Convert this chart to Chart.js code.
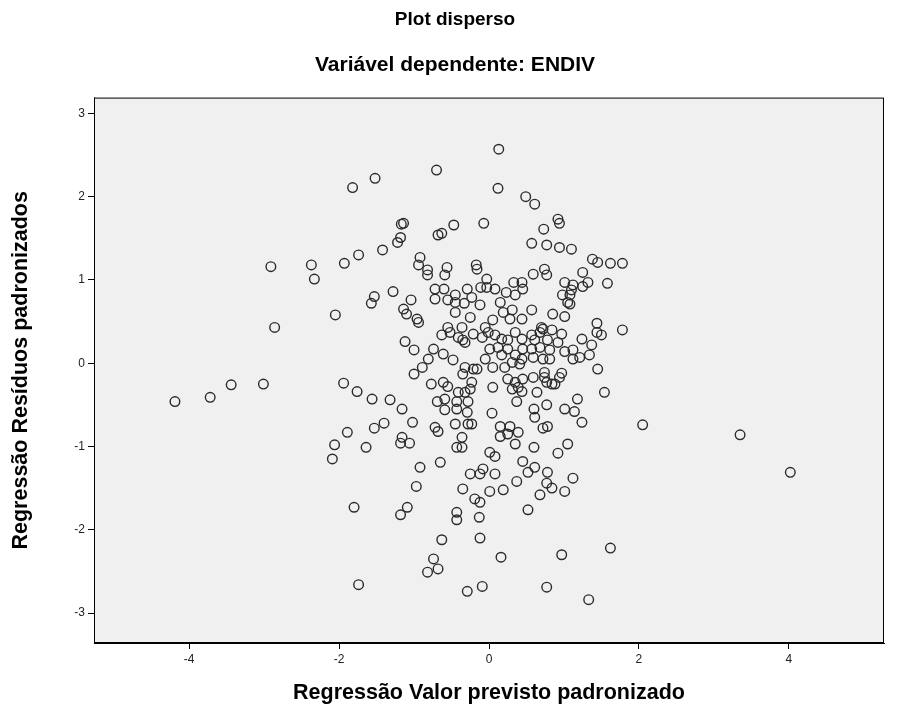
<!DOCTYPE html>
<html>
<head>
<meta charset="utf-8">
<title>Plot disperso</title>
<style>
  html, body { margin: 0; padding: 0; background: #fff; }
  #wrap { width: 898px; height: 713px; }
</style>
<script src="https://cdn.jsdelivr.net/npm/chart.js@4.4.1/dist/chart.umd.min.js"></script>
</head>
<body>
<div id="wrap"><canvas id="scatter" width="898" height="713"></canvas></div>
<script>
// Regressão Valor previsto padronizado (x) vs Regressão Resíduos padronizados (y)
const predicted = [
  -4.19,-3.72,-3.44,-3.01,-2.91,-2.86,-2.37,-2.33,-2.05,-2.06,-2.09,-1.82,-1.52,-1.93,-1.74,-1.94,
  -1.76,-1.89,-1.80,-1.74,-1.64,-1.56,-1.53,-1.57,-1.42,-1.53,-1.40,-1.32,-1.28,-1.22,-1.18,-1.17,
  -1.14,-1.16,-1.02,-1.16,-1.18,-1.06,-1.14,-1.10,-1.04,-1.12,-1.00,-1.00,-1.09,-1.18,-0.97,-0.92,
  -0.70,0.13,0.12,0.49,-0.47,-0.07,-0.63,-0.68,0.57,0.61,0.92,0.94,0.73,0.77,0.94,1.10,
  -0.92,-0.94,-0.82,-0.82,-0.56,-0.59,-0.17,-0.16,-0.03,-0.11,-0.03,0.08,0.23,0.33,0.44,0.35,
  0.45,-0.72,-0.60,-0.72,-0.45,-0.45,-0.55,-0.29,-0.23,-0.33,-0.12,-0.45,0.15,0.19,0.31,0.28,
  0.44,0.05,-0.25,-0.36,-0.55,-0.63,-0.52,-0.41,-0.35,-0.32,-0.21,-0.05,-0.01,-0.09,0.08,0.17,
  0.25,0.35,0.44,0.25,0.12,0.01,0.17,0.35,0.44,0.45,-0.96,-0.94,-0.74,-0.61,-0.81,-0.89,
  -0.48,-0.32,-0.21,-0.16,-0.05,0.05,0.21,0.31,0.41,
  1.38,1.45,1.62,1.78,0.59,0.74,0.77,1.25,1.01,1.12,1.32,1.25,1.58,0.98,1.08,1.10,
  1.05,1.08,0.57,0.85,1.01,1.44,1.44,1.50,1.78,0.70,0.72,0.68,0.84,0.97,0.57,0.61,
  0.78,0.92,1.24,1.37,0.57,0.68,0.81,1.01,1.12,0.72,0.81,1.12,1.21,1.34,0.59,1.45,0.74,0.97,
  -0.77,-0.61,-0.55,-0.23,-0.35,-0.41,-0.32,-0.25,-0.69,-0.59,-0.43,-0.28,-0.59,-0.43,-0.29,0.05,
  0.04,0.25,0.35,0.39,0.31,0.44,0.37,0.45,-0.45,-0.28,-0.23,-0.72,-0.68,0.15,0.28,0.15,
  0.25,0.39,0.35,-0.36,-0.43,-0.36,0.01,0.08,-0.65,0.45,0.52,-0.25,-0.08,-0.12,0.08,0.37,-0.35,0.01,0.19,
  0.59,0.74,0.84,0.77,0.88,0.94,0.64,1.54,1.18,1.01,1.14,1.24,0.77,0.60,0.61,0.72,
  0.78,2.05,0.60,1.05,0.92,0.61,0.78,0.77,0.84,1.12,1.01,0.68,
  -0.19,-0.12,0.52,-0.43,-0.43,-0.13,-0.63,-0.12,0.16,-0.74,-0.82,-0.68,-0.29,-0.09,0.97,1.62,0.77,1.33,3.35,4.02
];
const residual = [
  -0.46,-0.41,-0.26,-0.25,1.16,0.43,1.18,1.01,0.58,-0.98,-1.15,2.11,2.22,1.20,1.30,-0.24,
  -0.34,-0.83,-1.73,-2.66,-1.01,-0.43,0.80,0.72,1.36,-0.78,-0.72,-0.44,0.86,1.45,1.51,1.67,
  1.68,-0.55,-0.71,-0.89,-0.96,-0.96,0.65,0.59,0.76,0.26,0.16,-0.13,-1.73,-1.82,-1.48,-1.25,
  2.32,2.57,2.10,2.00,1.66,1.68,1.56,1.54,1.44,1.91,1.73,1.68,1.61,1.42,1.39,1.37,
  1.27,1.18,1.12,1.06,1.15,1.06,1.18,1.13,1.01,0.91,0.91,0.89,0.85,0.97,0.97,0.82,
  0.89,0.89,0.89,0.77,0.82,0.73,0.76,0.89,0.79,0.72,0.70,0.61,0.73,0.61,0.64,0.53,
  0.53,0.52,0.55,0.43,0.43,0.34,0.37,0.31,0.28,0.25,0.35,0.43,0.37,0.31,0.34,0.29,
  0.28,0.37,0.29,0.17,0.19,0.17,0.10,0.10,0.05,0.17,0.53,0.49,0.17,0.11,0.05,-0.05,
  0.04,-0.05,-0.07,-0.07,0.05,-0.05,-0.05,0.01,-0.01,
  1.25,1.21,1.20,1.20,1.07,1.13,1.06,1.09,0.97,0.94,0.97,0.92,0.96,0.82,0.82,0.88,
  0.73,0.71,0.64,0.59,0.56,0.48,0.37,0.34,0.40,0.43,0.41,0.37,0.40,0.35,0.34,0.28,
  0.28,0.25,0.29,0.22,0.17,0.19,0.16,0.14,0.16,0.05,0.05,0.05,0.07,0.10,0.07,-0.07,-0.11,-0.12,
  -0.25,-0.23,-0.28,-0.23,-0.13,-0.35,-0.35,-0.31,-0.46,-0.43,-0.46,-0.46,-0.56,-0.55,-0.59,-0.29,
  -0.60,-0.19,-0.23,-0.29,-0.31,-0.34,-0.46,-0.19,-0.73,-0.73,-0.73,-0.77,-0.82,-0.76,-0.76,-0.88,
  -0.85,-0.83,-0.97,-0.89,-1.01,-1.01,-1.07,-1.12,-1.19,-1.18,-1.31,-1.33,-1.27,-1.33,-1.33,-1.42,-1.51,-1.54,-1.52,
  -0.17,-0.17,-0.25,-0.23,-0.25,-0.17,-0.35,-0.35,-0.43,-0.55,-0.58,-0.71,-0.50,-0.55,-0.65,-0.78,
  -0.76,-0.74,-1.01,-0.97,-1.08,-1.25,-1.31,-1.44,-1.50,-1.38,-1.54,-1.58,
  -1.63,-1.67,-1.76,-1.79,-1.88,-1.85,-2.12,-2.10,-2.33,-2.35,-2.51,-2.47,-2.74,-2.68,-2.30,-2.22,-2.69,-2.84,-0.86,-1.31
];

const xTicks = [-4, -2, 0, 2, 4];
const yTicks = [-3, -2, -1, 0, 1, 2, 3];
const X_RANGE = [-5.27, 5.27];
const Y_RANGE = [-3.36, 3.19];

const FONT = "'Liberation Sans', Arial, sans-serif";

// grey plot area with a black frame, like the SPSS output
const plotFrame = {
  id: 'plotFrame',
  beforeDatasetsDraw(chart) {
    const { ctx, chartArea: a } = chart;
    ctx.save();
    ctx.fillStyle = '#f0f0f0';
    ctx.fillRect(a.left, a.top, a.right - a.left, a.bottom - a.top);
    ctx.strokeStyle = '#000';
    ctx.lineWidth = 1;
    ctx.strokeRect(a.left + 0.5, a.top + 0.5, a.right - a.left - 1, a.bottom - a.top - 1);
    ctx.restore();
  },
};

const points = predicted.map((x, i) => ({ x, y: residual[i] }));

new Chart(document.getElementById('scatter'), {
  type: 'scatter',
  data: {
    datasets: [{
      data: points,
      pointRadius: 4.8,
      pointHoverRadius: 4.8,
      pointBorderWidth: 1.4,
      pointBackgroundColor: 'rgba(0,0,0,0)',
      pointBorderColor: '#2b2b2b',
    }],
  },
  options: {
    responsive: false,
    animation: false,
    // left padding shifts the centred titles to the right, like the original
    layout: { padding: { left: 26, right: 14, top: 0, bottom: 0 } },
    plugins: {
      legend: { display: false },
      tooltip: { enabled: false },
      title: {
        display: true,
        text: 'Plot disperso',
        color: '#000',
        font: { family: FONT, size: 19, weight: 'bold' },
        padding: { top: 8.6, bottom: 2 },
      },
      subtitle: {
        display: true,
        text: 'Variável dependente: ENDIV',
        color: '#000',
        font: { family: FONT, size: 21, weight: 'bold' },
        padding: { top: 19, bottom: 20 },
      },
    },
    scales: {
      x: {
        type: 'linear',
        min: X_RANGE[0],
        max: X_RANGE[1],
        afterBuildTicks: (s) => { s.ticks = xTicks.map(v => ({ value: v })); },
        afterFit: (s) => { s.height = 70; },
        grid: { display: true, drawOnChartArea: false, drawTicks: true, tickLength: 6, color: '#000' },
        border: { display: true, color: '#000' },
        ticks: { color: '#222', font: { family: FONT, size: 12 }, padding: 3, maxRotation: 0 },
        title: {
          display: true,
          text: 'Regressão Valor previsto padronizado',
          color: '#000',
          font: { family: FONT, size: 21.5, weight: 'bold' },
          padding: { top: 0, bottom: 7 },
        },
      },
      y: {
        type: 'linear',
        min: Y_RANGE[0],
        max: Y_RANGE[1],
        afterBuildTicks: (s) => { s.ticks = yTicks.map(v => ({ value: v })); },
        afterFit: (s) => { s.width = 68; },
        grid: { display: true, drawOnChartArea: false, drawTicks: true, tickLength: 6, color: '#000' },
        border: { display: true, color: '#000' },
        ticks: { color: '#222', font: { family: FONT, size: 12 }, padding: 3 },
        title: {
          display: true,
          text: 'Regressão Resíduos padronizados',
          color: '#000',
          font: { family: FONT, size: 21.5, weight: 'bold' },
          padding: { top: -18, bottom: 0 },
        },
      },
    },
  },
  plugins: [plotFrame],
});
</script>
</body>
</html>
